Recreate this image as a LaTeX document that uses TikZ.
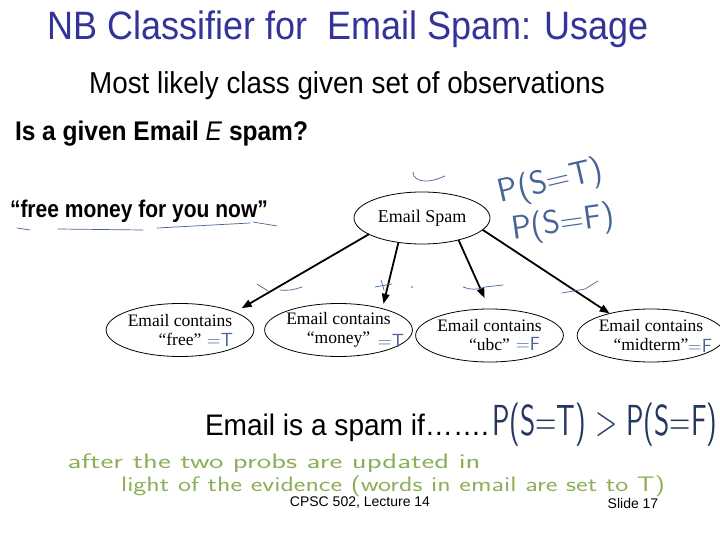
\documentclass[tikz,border=0pt]{standalone}
\usepackage{fontspec}
\setmainfont{Liberation Sans}
\newfontfamily\tms{Liberation Serif}
\usetikzlibrary{arrows.meta,shapes.geometric}
\definecolor{titleblue}{RGB}{51,51,153}
\definecolor{inkblue}{RGB}{70,100,150}
\definecolor{inknavy}{RGB}{35,55,95}
\definecolor{inkgreen}{RGB}{140,175,90}
\begin{document}
\begin{tikzpicture}[x=1pt,y=-1pt,
  every node/.style={inner sep=0pt, outer sep=0pt},
  cls/.style={ellipse, draw, line width=0.8pt, minimum width=137pt, minimum height=53pt, font=\tms\fontsize{17.5}{19}\selectfont, align=center},
  arr/.style={line width=1.8pt, -{Triangle[length=10pt,width=7.5pt]}},
  hand/.style={font=\sffamily\fontsize{19}{20}\selectfont, text=inkblue},
  scrib/.style={draw=inkblue, line width=0.7pt, line cap=round},
  greenhand/.style={font=\sffamily\fontsize{21}{22}\selectfont, text=inkgreen},
]
\useasboundingbox (0,0) rectangle (720,540);
\fill[white] (0,0) rectangle (720,540);

% headings
\node[text=titleblue] (title) at (348,29) {\scalebox{1}[1.1]{\fontsize{36}{40}\selectfont NB Classifier for\ \ Email Spam: Usage}};
\node (sub) at (347,86) {\scalebox{1.01}[1.1]{\fontsize{27.5}{30}\selectfont Most likely class given set of observations}};
\node[anchor=west] (q) at (15,134) {\scalebox{1}[1.1]{\fontsize{24.5}{28}\selectfont\bfseries Is a given Email \textit{\mdseries E} spam?}};
\node[anchor=west] (ex) at (10,211) {\scalebox{1}[1.15]{\fontsize{21}{24}\selectfont\bfseries “free money for you now”}};

% network
\node[cls, minimum width=136pt, minimum height=52pt, font=\tms\fontsize{18}{20}\selectfont] (spam) at (422,218) {Email Spam};
\node[cls] (free) at (180,330) {Email contains\\“free”};
\node[cls] (money) at (338.5,330) {Email contains\\“money”};
\node[cls] (ubc) at (489.5,335.5) {Email contains\\“ubc”};
\node[cls] (mid) at (651,335.5) {Email contains\\“midterm”};

\draw[arr, shorten >=8pt] (spam.197) -- (free.18);
\draw[arr, shorten >=5pt] (spam.226) -- (money.26);
\draw[arr, shorten >=12pt] (spam.329) -- (ubc.90);
\draw[arr] (spam.349) -- (mid.152);

% handwritten annotations
\node[hand] (hT1) at (220,340) {=T};
\node[hand] (hT2) at (391,341) {=T};
\node[hand] (hF1) at (528,344) {=F};
\node[hand] (hF2) at (700,346) {=F};
\node[hand, font=\sffamily\fontsize{33}{34}\selectfont, rotate=13] (pst) at (551,183) {P(S=T)};
\node[hand, font=\sffamily\fontsize{33}{34}\selectfont, rotate=8] (psf) at (563,224) {P(S=F)};

\draw[scrib] (17,228) -- (30,230);
\draw[scrib] (58,229) -- (143,230);
\draw[scrib] (157,228) -- (250,223);
\draw[scrib] (253,222) -- (277,226);
\draw[scrib] (413,172) .. controls (413,178) and (418,181) .. (426,181) .. controls (434,181) and (440,178) .. (445,176);
\draw[scrib] (257,284) -- (268,291);
\draw[scrib] (280,290) .. controls (290,291) and (296,289) .. (302,287);
\draw[scrib] (375,287) -- (392,284);
\draw[scrib] (381,280) -- (384,290);
\fill[inkblue] (412,287) circle (0.8);
\draw[scrib] (463,287) .. controls (470,290) and (478,290) .. (485,287) -- (503,285);
\draw[scrib] (562,293) -- (585,289) -- (598,281);

% bottom
\node[anchor=west] (rule) at (205,428) {\scalebox{1.04}[1.1]{\fontsize{27}{30}\selectfont Email is a spam if…….}};
\node[text=inknavy, anchor=west] (cmp) at (492,425) {\scalebox{0.94}[1.4]{\sffamily\fontsize{31}{34}\selectfont P(S=T) > P(S=F)}};
\node[greenhand] (g1) at (274,463) {\scalebox{1.46}[1]{after the two probs are updated in}};
\node[greenhand] (g2) at (393,486) {\scalebox{1.32}[1]{light of the evidence (words in email are set to T)}};

\node (foot) at (360,503) {\fontsize{14}{16}\selectfont CPSC 502, Lecture 14};
\node (slide) at (633,503) {\fontsize{14}{16}\selectfont Slide 17};
\end{tikzpicture}
\end{document}
